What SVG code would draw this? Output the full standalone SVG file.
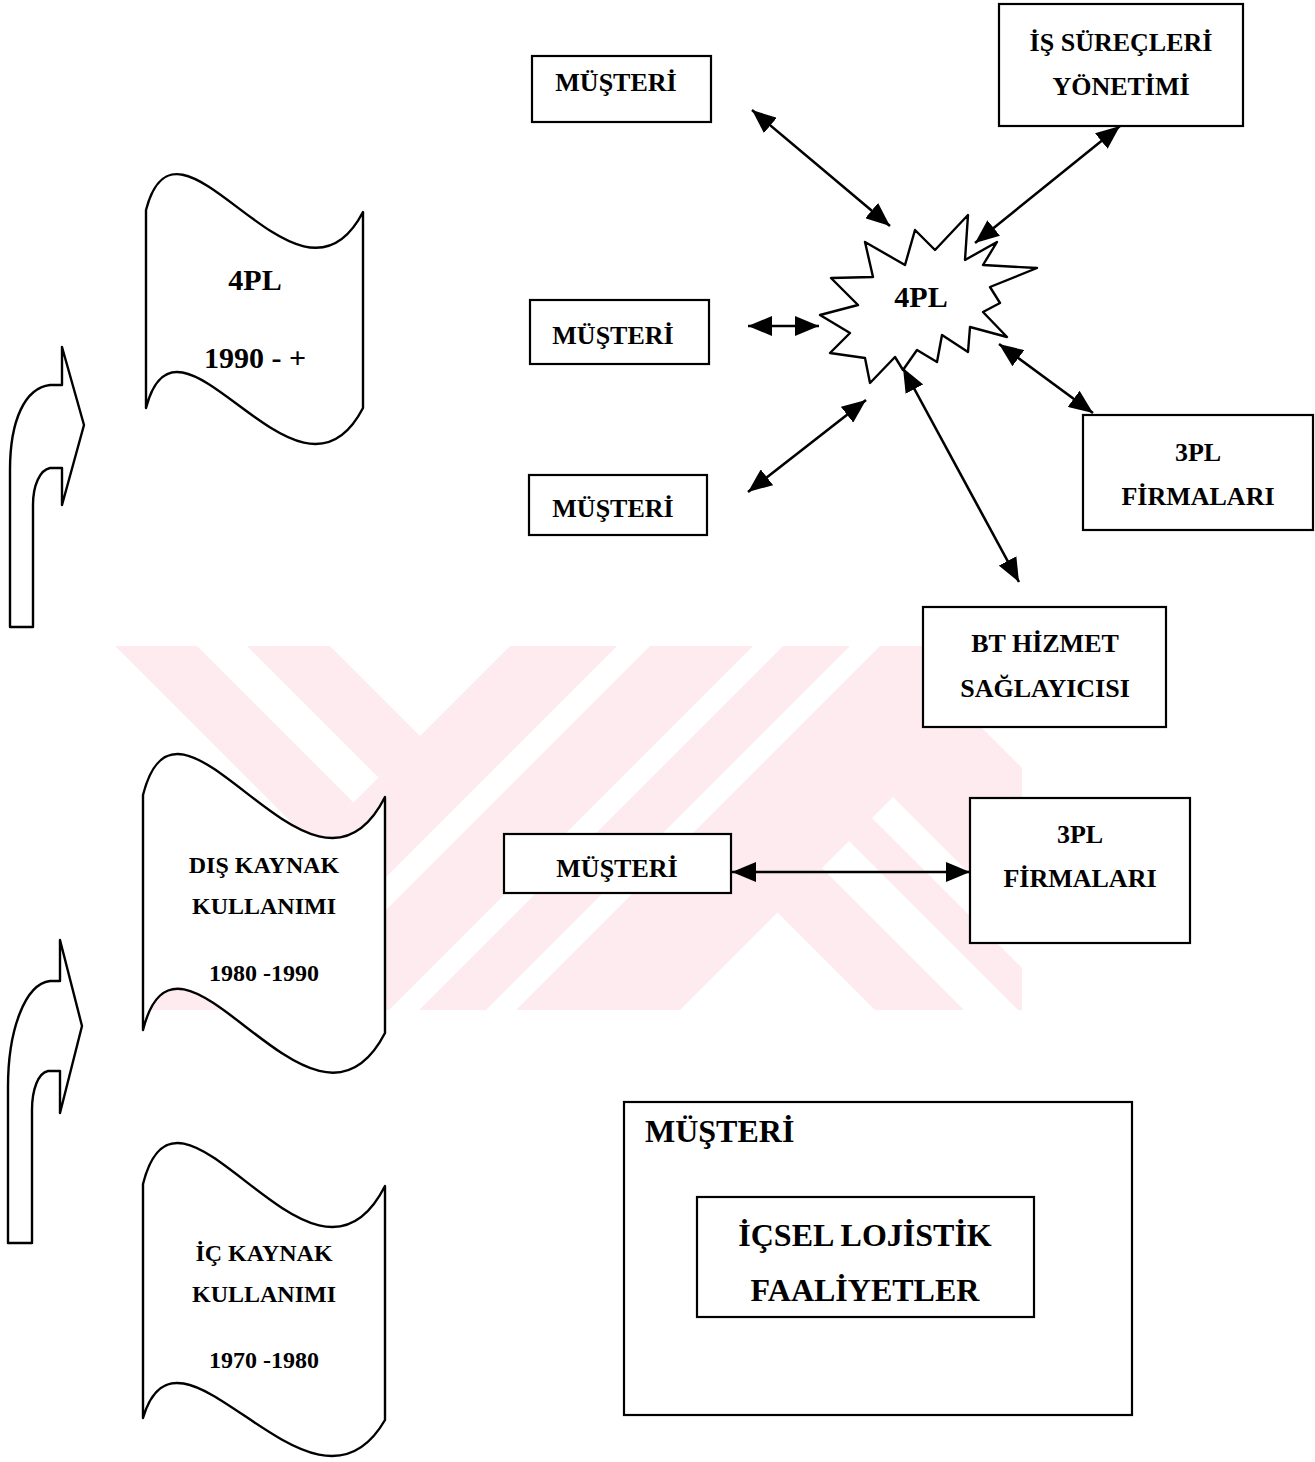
<svg xmlns="http://www.w3.org/2000/svg" width="1315" height="1462" viewBox="0 0 1315 1462">
<style>
.box{fill:#fff;stroke:#000;stroke-width:2.2}
.shape{fill:#fff;stroke:#000;stroke-width:2.4;stroke-linejoin:round}
.t{font-family:"Liberation Serif","Times New Roman",serif;font-weight:bold;fill:#000;text-anchor:middle}
.t26{font-size:26px}
.t24{font-size:24px}
.t30{font-size:30px}
.t32{font-size:32px}
.wm{fill:#fdebef}
.conn{stroke:#000;stroke-width:2.6;fill:none;marker-start:url(#ah);marker-end:url(#ah)}
</style>
<defs>
<marker id="ah" viewBox="0 0 24 20" refX="24" refY="10" markerWidth="24" markerHeight="20" markerUnits="userSpaceOnUse" orient="auto-start-reverse">
<path d="M0,0 L24,10 L0,20 z" fill="#000"/>
</marker>
<clipPath id="wmclip"><rect x="112" y="646" width="910" height="364"/></clipPath>
</defs>
<rect width="1315" height="1462" fill="#fff"/>

<g id="watermark" clip-path="url(#wmclip)">
<polygon class="wm" points="115,646 197,646 353.5,802.5 312.5,843.5"/>
<polygon class="wm" points="247,646 330,646 420,736 378.5,777.5"/>
<polygon class="wm" points="510,646 617,646 253,1010 146,1010"/>
<polygon class="wm" points="650,646 753,646 389,1010 286,1010"/>
<polygon class="wm" points="783,646 850,646 486,1010 419,1010"/>
<polygon class="wm" points="880,646 1044,646 680,1010 516,1010"/>
<polygon class="wm" points="777.5,912.5 822,868 964,1010 875,1010"/>
<polygon class="wm" points="849,841 872,818 1064,1010 1018,1010"/>
<polygon class="wm" points="893,797 972,718 1264,1010 1106,1010"/>
</g>

<g id="arrow-up-1"><path class="shape" d="M10,627 L10,470 C10,420 25,388 50,385 L62,385 L62,347 L84,425 L62,505 L62,468 L50,468 C40,470 33,485 33,505 L33,627 Z"/></g>
<g id="arrow-up-2"><path class="shape" d="M8,1243 L8,1087 C8,1030 25,984 50,981 L60,981 L60,940 L82,1026 L60,1113 L60,1071 L48,1071 C38,1073 32,1090 32,1110 L32,1243 Z"/></g>

<g id="banner-4pl">
<path class="shape" d="M146,210 C178.5,85 297.9,337 363,212 L363,408 C297.9,533 178.5,283 146,408 Z"/>
<text class="t t30" x="255" y="290">4PL</text>
<text class="t t30" x="255" y="368">1990 - +</text>
</g>
<g id="banner-dis">
<path class="shape" d="M143,795 C179.3,652 312.4,940 385,797 L385,1033 C312.4,1173 179.3,887 143,1030 Z"/>
<text class="t t24" x="264" y="873">DIŞ KAYNAK</text>
<text class="t t24" x="264" y="914">KULLANIMI</text>
<text class="t t24" x="264" y="981">1980 -1990</text>
</g>
<g id="banner-ic">
<path class="shape" d="M143,1184 C179.3,1041 312.4,1329 385,1186 L385,1420 C312.4,1545 179.3,1295 143,1418 Z"/>
<text class="t t24" x="264" y="1261">İÇ KAYNAK</text>
<text class="t t24" x="264" y="1302">KULLANIMI</text>
<text class="t t24" x="264" y="1368">1970 -1980</text>
</g>

<g id="musteri-1"><rect class="box" x="532" y="56" width="179" height="66"/><text class="t t26" x="616" y="91">MÜŞTERİ</text></g>
<g id="is-surecleri"><rect class="box" x="999" y="4" width="244" height="122"/><text class="t t26" x="1121" y="51">İŞ SÜREÇLERİ</text><text class="t t26" x="1121" y="95">YÖNETİMİ</text></g>
<g id="musteri-2"><rect class="box" x="530" y="300" width="179" height="64"/><text class="t t26" x="613" y="344">MÜŞTERİ</text></g>
<g id="musteri-3"><rect class="box" x="529" y="475" width="178" height="60"/><text class="t t26" x="613" y="517">MÜŞTERİ</text></g>
<g id="pl4-star">
<polygon class="shape" points="820,315 858,305 831,278 873,277 865,242 905,265 915,230 935,250 968,215 965,260 997,242 983,265 1037,268 990,287 1000,303 983,312 1007,337 970,327 968,352 942,335 937,362 917,350 903,370 895,357 870,383 865,358 830,353 850,333"/>
<text class="t t30" x="921" y="307">4PL</text>
</g>
<g id="pl3-firms-1"><rect class="box" x="1083" y="415" width="230" height="115"/><text class="t t26" x="1198" y="461">3PL</text><text class="t t26" x="1198" y="505">FİRMALARI</text></g>
<g id="bt-hizmet"><rect class="box" x="923" y="607" width="243" height="120"/><text class="t t26" x="1045" y="652">BT HİZMET</text><text class="t t26" x="1045" y="697">SAĞLAYICISI</text></g>
<g id="musteri-4"><rect class="box" x="504" y="834" width="227" height="59"/><text class="t t26" x="617" y="877">MÜŞTERİ</text></g>
<g id="pl3-firms-2"><rect class="box" x="970" y="798" width="220" height="145"/><text class="t t26" x="1080" y="843">3PL</text><text class="t t26" x="1080" y="887">FİRMALARI</text></g>
<g id="musteri-big"><rect class="box" x="624" y="1102" width="508" height="313"/><text class="t t32" x="645" y="1142" style="text-anchor:start">MÜŞTERİ</text></g>
<g id="icsel"><rect class="box" x="697" y="1197" width="337" height="120"/><text class="t t32" x="865" y="1246">İÇSEL LOJİSTİK</text><text class="t t32" x="865" y="1301">FAALİYETLER</text></g>

<g id="connectors">
<line class="conn" x1="752" y1="110" x2="890" y2="226"/>
<line class="conn" x1="1120" y1="126" x2="975" y2="243"/>
<line class="conn" x1="748" y1="326" x2="819" y2="326"/>
<line class="conn" x1="748" y1="492" x2="866" y2="400"/>
<line class="conn" x1="903" y1="368" x2="1019" y2="582"/>
<line class="conn" x1="999" y1="344" x2="1093" y2="413"/>
<line class="conn" x1="732" y1="872" x2="970" y2="872"/>
</g>
</svg>
